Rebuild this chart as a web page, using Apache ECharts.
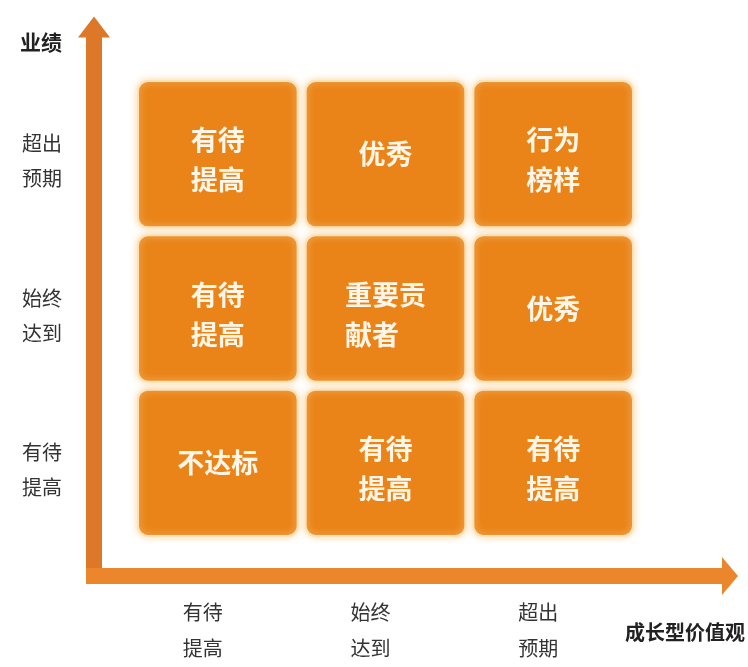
<!DOCTYPE html>
<html>
<head>
<meta charset="utf-8">
<script src="https://cdn.jsdelivr.net/npm/echarts@6/dist/echarts.min.js"></script>
<style>
html,body{margin:0;padding:0;background:#fff;}
#chart{width:748px;height:667px;}
</style>
</head>
<body>
<div id="chart"></div>
<script>
// Axis categories (x: 成长型价值观, y: 业绩 from bottom to top)
const xCategories = ['有待\n提高', '始终\n达到', '超出\n预期'];
const yCategories = ['有待\n提高', '始终\n达到', '超出\n预期'];
const xAxisName = '成长型价值观';
const yAxisName = '业绩';
// Cell texts, one array per row (bottom -> top), left -> right
const rowLow  = ['不达标', '有待\n提高', '有待\n提高'];
const rowMid  = ['有待\n提高', '重要贡\n献者', '优秀'];
const rowHigh = ['有待\n提高', '优秀', '行为\n榜样'];
const rows = [rowLow, rowMid, rowHigh];

const cellData = [];
rows.forEach((row, yi) => row.forEach((txt, xi) => cellData.push([xi, yi, txt])));

const FONT = '"Noto Sans CJK SC", "Noto Sans", sans-serif';
const chart = echarts.init(document.getElementById('chart'), null, {renderer: 'canvas'});

chart.setOption({
  backgroundColor: '#ffffff',
  animation: false,
  grid: [
    {left: 86, right: 18, top: 27, bottom: 83},
    {left: 134, right: 111, top: 77, bottom: 127}
  ],
  xAxis: [
    {
      gridIndex: 0, type: 'value', min: -8, max: 636,
      axisLine: {show: true, onZero: true, symbol: ['none', 'triangle'], symbolSize: [38, 16],
        lineStyle: {color: '#EC862D', width: 16, cap: 'butt'}},
      axisTick: {show: false}, axisLabel: {show: false}, splitLine: {show: false},
      name: xAxisName, nameLocation: 'end', nameGap: 15,
      nameTextStyle: {fontFamily: FONT, fontSize: 20, fontWeight: 'bold', color: '#222',
        align: 'right', verticalAlign: 'top', padding: [46, 0, 0, 0]}
    },
    {
      gridIndex: 1, type: 'category', data: xCategories,
      axisLine: {show: false}, axisTick: {show: false}, splitLine: {show: false},
      axisLabel: {fontFamily: FONT, fontSize: 20, color: '#333', lineHeight: 36, margin: 54,
        padding: [0, 30, 0, 0]}
    }
  ],
  yAxis: [
    {
      gridIndex: 0, type: 'value', min: -8, max: 549,
      axisLine: {show: true, onZero: true, symbol: ['none', 'triangle'], symbolSize: [32, 21],
        lineStyle: {color: '#DE7829', width: 16, cap: 'butt'}},
      axisTick: {show: false}, axisLabel: {show: false}, splitLine: {show: false},
      name: yAxisName, nameLocation: 'end', nameGap: -15,
      nameTextStyle: {fontFamily: FONT, fontSize: 21, fontWeight: 'bold', color: '#222',
        align: 'right', verticalAlign: 'middle', padding: [0, 32, 0, 0]}
    },
    {
      gridIndex: 1, type: 'category', data: yCategories,
      axisLine: {show: false}, axisTick: {show: false}, splitLine: {show: false},
      axisLabel: {
        margin: 72,
        formatter: function (v) {
          return '{gap|}\n' + v.split('\n').map(l => '{t|' + l + '}').join('\n');
        },
        rich: {
          gap: {fontSize: 10, lineHeight: 14},
          t: {fontFamily: FONT, fontSize: 20, color: '#333', lineHeight: 35}
        }
      }
    }
  ],
  series: [{
    type: 'custom',
    xAxisIndex: 1, yAxisIndex: 1,
    data: cellData,
    renderItem: function (params, api) {
      const c = api.coord([api.value(0), api.value(1)]);
      const s = api.size([1, 1]);
      const w = s[0] - 8, h = s[1] - 8;
      const txt = cellData[params.dataIndex][2];
      const lines = txt.split('\n');
      const fs = 27;
      const maxLen = Math.max.apply(null, lines.map(l => l.length));
      const off = lines.length > 1 ? 6 : 0;
      return {
        type: 'group',
        children: [
          {type: 'rect',
           shape: {x: c[0] - w / 2, y: c[1] - h / 2, width: w, height: h, r: 10},
           style: {fill: '#EA8418', stroke: '#FBE2B8', lineWidth: 2,
                   shadowBlur: 7, shadowColor: 'rgba(248,214,160,0.9)'}},
          {type: 'text',
           x: c[0] - maxLen * fs / 2, y: c[1] + off,
           style: {text: txt, fill: '#FFF6E8', font: 'bold ' + fs + 'px ' + FONT,
                   align: 'left', verticalAlign: 'middle', lineHeight: 40}}
        ]
      };
    }
  }]
});
</script>
</body>
</html>
